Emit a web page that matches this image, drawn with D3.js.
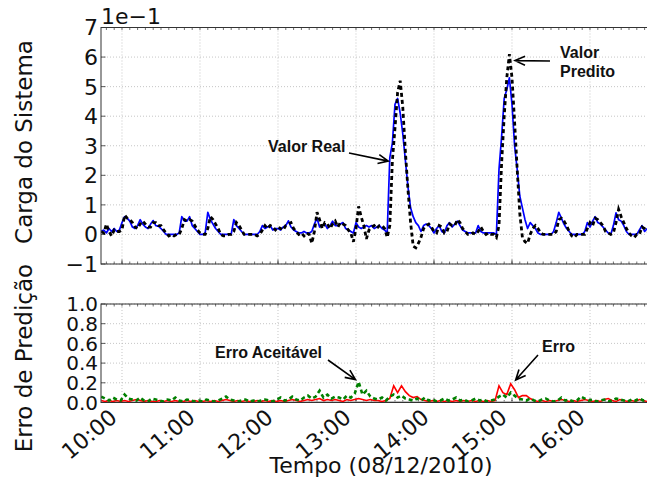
<!DOCTYPE html>
<html><head><meta charset="utf-8">
<script src="https://cdn.jsdelivr.net/npm/d3@7"></script>
<style>body{margin:0;background:#fff} svg{display:block}</style>
</head><body><svg id="c" width="647" height="485"></svg>
<script>
// ---------- DATA (minutes after 10:00) ----------
const loadStartMinute = -16, loadStepMinutes = 2;
// values shown in units of 1e-1
const realLoad = [
0.1,0.15,0.05,0.2,0.1,0.2,0.1,0.15,0.4,0.6,
0.55,0.45,0.25,0.2,0.3,0.5,0.35,0.25,0.2,0.35,
0.47,0.3,0.28,0.2,0.1,0,0,0,0,0,
0.05,0.6,0.45,0.45,0.6,0.3,0.2,0.1,0,0,
0.05,0.75,0.5,0.35,0.2,0.1,0,0,0,0,
0,0.5,0.3,0.2,0.1,0,0,0,0,0,
0,0.1,0.3,0.2,0.25,0.3,0.15,0.2,0.2,0.15,
0.25,0.3,0.46,0.25,0.15,0.1,0.05,0.05,0.1,0.05,
0.05,0.1,0.35,0.55,0.25,0.3,0.35,0.2,0.3,0.45,
0.3,0.3,0.35,0.4,0.2,0.15,0.1,0.05,0.4,0.25,
0.2,0.25,0.3,0.25,0.3,0.2,0.25,0.3,0.2,0.15,
0.05,2.6,3.1,4.4,4.6,4.1,3.4,2.5,1.6,0.9,
0.6,0.4,0.3,0.1,0.3,0.35,0.3,0.2,0.05,0.2,
0.3,0.1,0.05,0.3,0.4,0.25,0.35,0.45,0.3,0.15,
0.1,0.05,0.05,0.05,0.05,0.3,0.1,0.05,0.05,0.05,
0.05,0.05,0,2.2,3.3,4.6,4.9,5.3,4.4,3.0,
2.2,1.3,0.9,0.5,0.2,0.4,0.3,0.2,0.05,0,
0,0,0,0,0.1,0.4,0.75,0.55,0.35,0.2,
0.1,0,0,0,0,0,0.1,0.4,0.25,0.45,
0.6,0.4,0.35,0.25,0.15,0.05,0,0.3,0.73,0.5,
0.45,0.3,0.1,0,0,0,0,0.15,0.3,0.1,
0.2];
const predictedLoad = [
0.1,0.05,0.35,0.1,-0.05,0.15,0.1,0.1,0.15,0.65,
0.55,0.5,0.4,0.25,0.2,0.35,0.45,0.35,0.25,0.25,
0.4,0.4,0.3,0.3,0.15,0.05,-0.05,0,-0.05,0,
0,0.2,0.5,0.45,0.5,0.45,0.3,0.15,0.05,0,
0,0.2,0.6,0.5,0.35,0.2,0,-0.05,-0.05,0,
0,0.1,0.4,0.3,0.15,0,0,0,0,0,
-0.05,0,0.15,0.3,0.2,0.3,0.25,0.15,0.25,0.2,
0.15,0.3,0.35,0.4,0.2,0.1,0,0.05,-0.05,0.05,
0,-0.3,0.1,0.75,0.5,0.2,0.4,0.35,0.2,0.35,
0.45,0.25,0.4,0.35,0.3,0.15,0.05,-0.25,0.2,0.95,
0.6,0.3,-0.15,0.15,0.25,0.3,0.2,0.3,0.3,0.2,
-0.1,0.3,2.5,3.6,4.8,5.2,4.3,2.8,1.5,0.4,
-0.4,-0.45,-0.3,-0.1,0.2,0.3,0.35,0.25,0.1,0.05,
0.3,0.25,0.05,0.1,0.35,0.3,0.3,0.5,0.4,0.2,
0.1,0,0,0.05,0,0.1,0.25,0.1,0,0.05,
0,0,-0.1,0.3,2.4,4.0,5.3,6.1,5.3,3.8,
2.2,0.7,-0.1,-0.25,-0.3,0,0.2,0.3,0.2,0.05,
0,0,0,0,0,0.1,0.5,0.55,0.45,0.3,
0.1,-0.05,-0.1,0,0,0,0,0.2,0.4,0.3,
0.55,0.5,0.4,0.3,0.1,0.05,0,0.05,0.4,0.85,
0.6,0.4,0.2,0.05,-0.05,-0.1,0,0,0.25,0.2,
0.1];
const errStartMinute = -16, errStepMinutes = 3;
const predictionError = [
0.02,0.01,0.02,0.01,0.02,0.01,0.02,0.01,0.02,0.03,
0.02,0.01,0.02,0.01,0.01,0.02,0.01,0.02,0.01,0.02,
0.01,0.01,0.02,0.01,0.02,0.01,0.01,0.02,0.01,0.02,
0.01,0.02,0.03,0.02,0.01,0.02,0.01,0.02,0.01,0.01,
0.02,0.01,0.02,0.01,0.02,0.01,0.02,0.01,0.02,0.03,
0.02,0.01,0.02,0.03,0.02,0.03,0.04,0.02,0.03,0.02,
0.03,0.02,0.01,0.03,0.02,0.03,0.04,0.03,0.02,0.03,
0.02,0.02,0.01,0.02,0.04,0.17,0.1,0.17,0.11,0.07,
0.05,0.06,0.03,0.02,0.01,0.02,0.01,0.02,0.01,0.02,
0.01,0.02,0.01,0.02,0.01,0.02,0.01,0.02,0.01,0.02,
0.01,0.02,0.17,0.1,0.08,0.19,0.13,0.05,0.07,0.07,
0.04,0.02,0.01,0.02,0.01,0.02,0.01,0.02,0.03,0.02,
0.01,0.02,0.01,0.02,0.03,0.02,0.01,0.02,0.01,0.03,
0.04,0.02,0.01,0.03,0.02,0.01,0.02,0.01,0.03,0.02,
0.01];
const acceptableError = [
0.06,0.04,0.02,0.05,0.03,0.02,0.08,0.04,0.03,0.02,
0.05,0.02,0.01,0.04,0.03,0.02,0.01,0.03,0.02,0.05,
0.02,0.01,0.03,0.02,0.01,0.02,0.01,0.03,0.02,0.01,
0.02,0.04,0.06,0.03,0.02,0.01,0.02,0.03,0.01,0.02,
0.01,0.02,0.03,0.02,0.01,0.03,0.05,0.02,0.03,0.06,
0.03,0.02,0.05,0.07,0.04,0.06,0.12,0.05,0.08,0.04,
0.06,0.05,0.03,0.07,0.05,0.09,0.21,0.08,0.12,0.06,
0.04,0.03,0.05,0.02,0.06,0.08,0.05,0.07,0.04,0.03,
0.02,0.04,0.02,0.05,0.02,0.03,0.01,0.02,0.04,0.02,
0.03,0.05,0.02,0.03,0.01,0.02,0.04,0.02,0.03,0.01,
0.02,0.03,0.06,0.08,0.05,0.1,0.07,0.04,0.03,0.02,
0.04,0.02,0.01,0.03,0.04,0.02,0.01,0.02,0.05,0.02,
0.03,0.01,0.02,0.06,0.04,0.02,0.03,0.01,0.02,0.03,
0.01,0.02,0.04,0.03,0.02,0.01,0.03,0.02,0.04,0.02,
0.03];
const hourTicks = [0,60,120,180,240,300,360];
const hourLabels = ["10:00","11:00","12:00","13:00","14:00","15:00","16:00"];
const loadTicks = [-1,0,1,2,3,4,5,6,7];
const loadTickLabels = ["\u22121","0","1","2","3","4","5","6","7"];
const errTicks = [0,0.2,0.4,0.6,0.8,1.0];
const errTickLabels = ["0.0","0.2","0.4","0.6","0.8","1.0"];

// ---------- LAYOUT ----------
const svg = d3.select("#c");
const L = 101, R = 670;
const x = d3.scaleLinear().domain([-16.15, (R-122)/1.3]).range([L, R]);
const yTop = d3.scaleLinear().domain([-1, 7]).range([264, 27.5]);
const yBot = d3.scaleLinear().domain([0, 1]).range([402.5, 304]);

const loadData = realLoad.map((v,i)=>({t: loadStartMinute + i*loadStepMinutes, real: v, pred: predictedLoad[i]}));
const errData = predictionError.map((v,i)=>({t: errStartMinute + i*errStepMinutes, err: v, acc: acceptableError[i]}));

const defs = svg.append("defs");
defs.append("clipPath").attr("id","clipTop").append("rect").attr("x",L).attr("y",27.5).attr("width",R-L).attr("height",236.5);
defs.append("clipPath").attr("id","clipBot").append("rect").attr("x",L).attr("y",304).attr("width",R-L).attr("height",98.5);

function panel(yScale, ticks, tickLabels, fontSize){
  const [y0, y1] = yScale.range();
  const g = svg.append("g");
  g.selectAll(".vg").data(hourTicks).join("line")
    .attr("x1",d=>x(d)).attr("x2",d=>x(d)).attr("y1",y1).attr("y2",y0)
    .attr("stroke","#b8b8b8").attr("stroke-width",0.8).attr("stroke-dasharray","1,2");
  g.selectAll(".hg").data(ticks).join("line")
    .attr("x1",L).attr("x2",R).attr("y1",d=>yScale(d)).attr("y2",d=>yScale(d))
    .attr("stroke","#b8b8b8").attr("stroke-width",0.8).attr("stroke-dasharray","1,2");
  const minor = d3.range(-12, 420, 6);
  g.selectAll(".mt").data(minor).join("line")
    .attr("x1",d=>x(d)).attr("x2",d=>x(d)).attr("y1",y0).attr("y2",y0-2.5)
    .attr("stroke","#333").attr("stroke-width",0.7);
  g.selectAll(".mt2").data(minor).join("line")
    .attr("x1",d=>x(d)).attr("x2",d=>x(d)).attr("y1",y1).attr("y2",y1+2.5)
    .attr("stroke","#333").attr("stroke-width",0.7);
  g.selectAll(".Mt").data(hourTicks).join("line")
    .attr("x1",d=>x(d)).attr("x2",d=>x(d)).attr("y1",y0).attr("y2",y0-4.5)
    .attr("stroke","#333").attr("stroke-width",0.8);
  g.selectAll(".yt").data(ticks).join("line")
    .attr("x1",L).attr("x2",L+4.5).attr("y1",d=>yScale(d)).attr("y2",d=>yScale(d))
    .attr("stroke","#333").attr("stroke-width",0.8);
  g.selectAll(".yl").data(ticks).join("text")
    .attr("x",L-3).attr("y",d=>yScale(d)).attr("dy","0.36em")
    .attr("text-anchor","end").attr("font-family","DejaVu Sans").attr("font-size",fontSize)
    .attr("fill","#111").text((d,i)=>tickLabels[i]);
  return g;
}

// top panel
panel(yTop, loadTicks, loadTickLabels, 22);
const gTop = svg.append("g").attr("clip-path","url(#clipTop)");
gTop.append("path").datum(loadData)
  .attr("d", d3.line().x(d=>x(d.t)).y(d=>yTop(d.real)))
  .attr("fill","none").attr("stroke","#0000ff").attr("stroke-width",1.7).attr("stroke-linejoin","round");
gTop.append("path").datum(loadData)
  .attr("d", d3.line().x(d=>x(d.t)).y(d=>yTop(d.pred)))
  .attr("fill","none").attr("stroke","#000").attr("stroke-width",2.8).attr("stroke-dasharray","4,3");
svg.append("rect").attr("x",L).attr("y",27.5).attr("width",R-L).attr("height",236.5)
  .attr("fill","none").attr("stroke","#333").attr("stroke-width",1);
svg.append("text").attr("x",L).attr("y",24).attr("font-family","DejaVu Sans").attr("font-size",22)
  .attr("fill","#111").text("1e\u22121");

// bottom panel
panel(yBot, errTicks, errTickLabels, 20);
const gBot = svg.append("g").attr("clip-path","url(#clipBot)");
gBot.append("line").attr("x1",L).attr("x2",R).attr("y1",yBot(0)).attr("y2",yBot(0))
  .attr("stroke","#aaaaaa").attr("stroke-width",2.5);
gBot.append("path").datum(errData)
  .attr("d", d3.line().x(d=>x(d.t)).y(d=>yBot(d.err)))
  .attr("fill","none").attr("stroke","#ff0000").attr("stroke-width",1.6);
gBot.append("path").datum(errData)
  .attr("d", d3.line().x(d=>x(d.t)).y(d=>yBot(d.acc)))
  .attr("fill","none").attr("stroke","#008000").attr("stroke-width",2.6).attr("stroke-dasharray","4,3");
svg.append("rect").attr("x",L).attr("y",304).attr("width",R-L).attr("height",98.5)
  .attr("fill","none").attr("stroke","#333").attr("stroke-width",1);

// x tick labels (rotated, right end at the tick)
svg.selectAll(".xl").data(hourTicks).join("text")
  .attr("transform",d=>`translate(${x(d)-33},434) rotate(-40)`)
  .attr("text-anchor","middle").attr("dy","0.36em")
  .attr("font-family","DejaVu Sans").attr("font-size",22).attr("fill","#111")
  .text((d,i)=>hourLabels[i]);

// axis titles
svg.append("text").attr("x",381).attr("y",473).attr("text-anchor","middle")
  .attr("font-family","DejaVu Sans").attr("font-size",22).attr("fill","#111").text("Tempo (08/12/2010)");
svg.append("text").attr("transform","translate(32,142) rotate(-90)").attr("text-anchor","middle")
  .attr("font-family","DejaVu Sans").attr("font-size",23).attr("fill","#111").text("Carga do Sistema");
svg.append("text").attr("transform","translate(32,358) rotate(-90)").attr("text-anchor","middle")
  .attr("font-family","DejaVu Sans").attr("font-size",23).attr("fill","#111").text("Erro de Predição");

// annotations
function arrow(x1,y1,x2,y2){
  const a = Math.atan2(y2-y1, x2-x1), h = 11, w = 0.42;
  svg.append("path")
    .attr("d",`M${x1},${y1}L${x2},${y2}M${x2-h*Math.cos(a-w)},${y2-h*Math.sin(a-w)}L${x2},${y2}L${x2-h*Math.cos(a+w)},${y2-h*Math.sin(a+w)}`)
    .attr("fill","none").attr("stroke","#000").attr("stroke-width",1.6);
}
function label(tx,ty,lines){
  const t = svg.append("text").attr("font-family","Liberation Sans, Arial, sans-serif")
    .attr("font-weight","bold").attr("font-size",16).attr("fill","#111");
  lines.forEach((s,i)=>t.append("tspan").attr("x",tx).attr("y",ty+i*19).text(s));
}
label(268,152,["Valor Real"]);
arrow(349,153, x(204.8), yTop(2.48));
label(560,58,["Valor","Predito"]);
arrow(550,61, x(302.3), yTop(5.88));
label(215,358,["Erro Aceitável"]);
arrow(328,360, x(179.6), yBot(0.233));
label(542,352,["Erro"]);
arrow(538,355, x(302.8), yBot(0.228));
</script></body></html>
